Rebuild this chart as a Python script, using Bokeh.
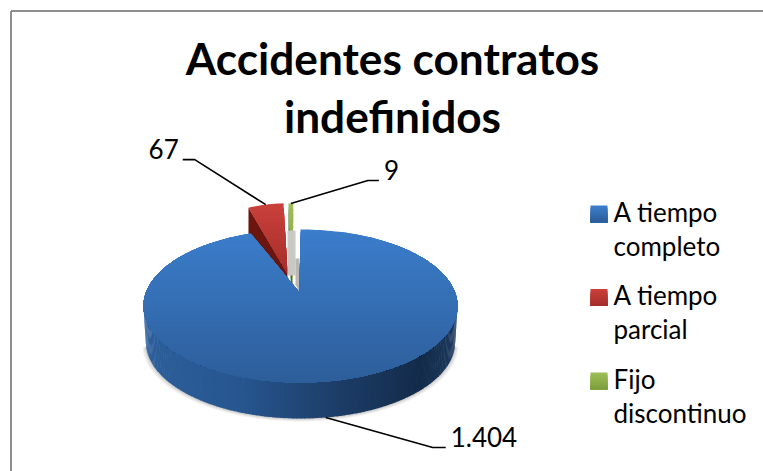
import math
from bokeh.plotting import figure
from bokeh.models import Range1d
from bokeh.core.properties import value
from bokeh.embed import file_html
from bokeh.resources import INLINE

title_lines = ["Accidentes contratos", "indefinidos"]
categories = ["A tiempo completo", "A tiempo parcial", "Fijo discontinuo"]
legend_lines = [["A tiempo", "completo"], ["A tiempo", "parcial"], ["Fijo", "discontinuo"]]
values = [1404, 67, 9]
value_labels = ["1.404", "67", "9"]

FONT = "Lato"
CX, CY, RX, RY, DEPTH = 300.0, 305.5, 157.0, 76.5, 36.0
APEX = (299.0, 292.0)
# Exploded slices: apex position and stretch relative to the main pie apex
EXPLODE = [None, ((287.0, 273.0), 0.8, 1.115), ((292.0, 278.0), 0.8, 1.19)]
TOPS = [("#3b7dcb", "#2d5e9a"), ("#c9403b", "#a52e2b"), ("#9cbd56", "#7f9f3c")]
SIDE = ["#1c3d68", "#6b1510", "#4d6a1f"]
BASE_SHIFT = 0.42  # em, text sits this far below the requested baseline

p = figure(width=763, height=471, x_range=Range1d(0, 763), y_range=Range1d(471, 0),
           toolbar_location=None, output_backend="svg", min_border=0)
p.axis.visible = False
p.grid.visible = False
p.outline_line_color = None
p.background_fill_color = "white"


def hexrgb(c):
    return tuple(int(c[i:i + 2], 16) for i in (1, 3, 5))


def mix(a, b, t):
    ra, rb = hexrgb(a), hexrgb(b)
    return "#%02x%02x%02x" % tuple(round(x + (y - x) * t) for x, y in zip(ra, rb))


def clip_top(pts, y0):
    out = []
    for i, a in enumerate(pts):
        b = pts[(i + 1) % len(pts)]
        ina, inb = a[1] >= y0, b[1] >= y0
        if ina:
            out.append(a)
        if ina != inb:
            t = (y0 - a[1]) / (b[1] - a[1])
            out.append((a[0] + (b[0] - a[0]) * t, y0))
    return out


def gradient(pts, c1, c2, n=24):
    # Painted top to bottom, each band reaching the shape's foot, so no seams show
    ys = [q[1] for q in pts]
    lo, hi = min(ys), max(ys)
    step = (hi - lo) / n
    xs_all, ys_all, cols = [], [], []
    for k in range(n):
        part = clip_top(pts, lo + k * step)
        if len(part) > 2:
            xs_all.append([q[0] for q in part])
            ys_all.append([q[1] for q in part])
            cols.append(mix(c1, c2, k / max(n - 1, 1)))
    p.patches(xs_all, ys_all, fill_color=cols, line_color=None)


def ell(deg, dy=0.0, shrink=1.0):
    a = math.radians(deg)
    return CX + RX * shrink * math.sin(a), CY - RY * math.cos(a) + dy


total = sum(values)
starts = []
acc = 0.0
for v in values:
    starts.append(acc / total * 360)
    acc += v
ends = starts[1:] + [360.0]


def arc(a0, a1, n=120):
    return [a0 + (a1 - a0) * i / n for i in range(n + 1)]


def moved(q, spec):
    (ax, ay), kx, ky = spec
    return ax + (q[0] - APEX[0]) * kx, ay + (q[1] - APEX[1]) * ky


# Frame (left and top only remain visible in the picture)
p.line([10.5, 10.5], [471, 10.5], line_color="#8e8e8e", line_width=2)
p.line([10.5, 763], [10.5, 10.5], line_color="#8e8e8e", line_width=2)

# Exploded slices, behind the main slice
for i in (1, 2):
    spec = EXPLODE[i]
    rim = [moved(ell(a), spec) for a in arc(starts[i], ends[i], 12)]
    tip = spec[0]
    left = rim[0]
    p.patch([left[0], left[0], tip[0], tip[0]],
            [left[1], left[1] + DEPTH, tip[1] + DEPTH, tip[1]],
            fill_color=SIDE[i], line_color=None)
    gradient([tip] + rim, TOPS[i][0], TOPS[i][1], 14)

# Soft shadow under the main slice
for grow, off, alpha in [(4, 3, 0.08), (3, 2, 0.10), (1.5, 1, 0.14)]:
    pts = [ell(a, DEPTH + off, (RX + grow - 3) / RX) for a in arc(92, 268, 90)]
    p.patch([q[0] for q in pts], [q[1] for q in pts], fill_color="#555555", fill_alpha=alpha, line_color=None)

# Pale inner walls of the gap
p.patch([APEX[0] - 12, APEX[0] - 4, APEX[0] - 4, APEX[0] - 12],
        [CY - RY + 1, CY - RY + 1, APEX[1] - 17, APEX[1] - 17], fill_color="#c8c8c4", line_color=None)
p.patch([APEX[0] - 4, APEX[0], APEX[0], APEX[0] - 4],
        [APEX[1] - 34, APEX[1] - 34, APEX[1], APEX[1] - 8], fill_color="#b8b8b4", line_color=None)

# Main slice side wall
stops = [(0.0, "#2c5f9b"), (0.3, "#27568f"), (0.6, "#1d3e69"), (0.88, "#132b4a"), (1.0, "#1d3a5f")]


def side_color(t):
    for (t0, c0), (t1, c1) in zip(stops, stops[1:]):
        if t <= t1:
            return mix(c0, c1, (t - t0) / (t1 - t0))
    return stops[-1][1]


ang = arc(270, 90, 120)
xs_side, ys_side, cs = [], [], []
for a0, a1 in zip(ang, ang[1:]):
    q0, q1 = ell(a0), ell(a1 - 0.4)
    b0, b1 = ell(a0, DEPTH, 0.985), ell(a1 - 0.4, DEPTH, 0.985)
    xs_side.append([q0[0], q1[0], b1[0], b0[0]])
    ys_side.append([q0[1], q1[1], b1[1], b0[1]])
    cs.append(side_color((q0[0] - (CX - RX)) / (2 * RX)))
p.patches(xs_side, ys_side, fill_color=cs, line_color=None)

# Main slice top
outline = [APEX] + [ell(a) for a in arc(starts[0], ends[0], 240)]
gradient(outline, TOPS[0][0], TOPS[0][1], 60)

# Leader lines
mids = [(s + e) / 2 for s, e in zip(starts, ends)]
anchor0 = ell(mids[0], DEPTH)
anchor1 = moved(ell(mids[1]), EXPLODE[1])
anchor2 = moved(ell(mids[2]), EXPLODE[2])
leaders = [
    (anchor0, (anchor0[0] + 107, anchor0[1] + 30), (anchor0[0] + 120, anchor0[1] + 30)),
    (anchor1, (anchor1[0] - 71, anchor1[1] - 45), (anchor1[0] - 83, anchor1[1] - 45)),
    (anchor2, (anchor2[0] + 77, anchor2[1] - 23), (anchor2[0] + 88, anchor2[1] - 23)),
]
for a, b, c in leaders:
    p.line([a[0], b[0], c[0]], [a[1], b[1], c[1]], line_color="black", line_width=1.6)


def txt(x, y, s, size, style="normal", align="left"):
    p.text([x], [y - BASE_SHIFT * size], text=[s], text_font=value(FONT), text_font_size=f"{size}px",
           text_font_style=style, text_color="black", text_align=align, text_baseline="alphabetic")


# Title
TITLE_Y = [76, 134]
for line, y in zip(title_lines, TITLE_Y):
    txt(392, y, line, 44.2, "bold", "center")

# Value labels
txt(leaders[0][2][0] + 5, leaders[0][2][1], value_labels[0], 26)
txt(leaders[1][2][0] - 4, leaders[1][2][1], value_labels[1], 26, align="right")
txt(leaders[2][2][0] + 5, leaders[2][2][1], value_labels[2], 26)

# Legend
KEY_X, KEY_SIZE, TEXT_X = 590, 17, 613
FIRST_Y, ROW, LINE = 205, 83.5, 34
for i, lines in enumerate(legend_lines):
    top = FIRST_Y + ROW * i
    gradient([(KEY_X, top), (KEY_X + KEY_SIZE, top), (KEY_X + KEY_SIZE, top + KEY_SIZE), (KEY_X, top + KEY_SIZE)],
             TOPS[i][0], TOPS[i][1], 8)
    for j, s in enumerate(lines):
        txt(TEXT_X, top + 17 + j * LINE, s, 26)

open("out.html", "w").write(file_html(p, INLINE))
